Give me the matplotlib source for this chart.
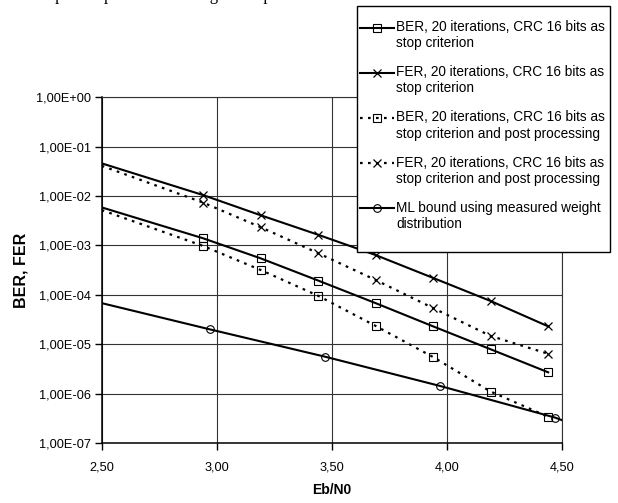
import numpy as np
import matplotlib
matplotlib.use("Agg")
import matplotlib.pyplot as plt
from matplotlib.ticker import FuncFormatter, FixedLocator
from matplotlib.legend_handler import HandlerLine2D
from matplotlib.patches import Rectangle

# Eb/N0 points of the simulated curves
ebn0 = [2.94, 3.19, 3.44, 3.69, 3.94, 4.19, 4.44]
berCrc = [1.4e-3, 5.5e-4, 1.95e-4, 6.8e-5, 2.3e-5, 7.9e-6, 2.7e-6]
ferCrc = [1.05e-2, 4.1e-3, 1.65e-3, 6.4e-4, 2.2e-4, 7.5e-5, 2.3e-5]
berPost = [9.8e-4, 3.2e-4, 9.6e-5, 2.35e-5, 5.5e-6, 1.1e-6, 3.4e-7]
ferPost = [7.4e-3, 2.35e-3, 7.0e-4, 2.0e-4, 5.4e-5, 1.47e-5, 6.4e-6]
# ML bound
ebn0Ml = [2.97, 3.47, 3.97, 4.47]
mlBound = [2.0e-5, 5.6e-6, 1.43e-6, 3.27e-7]
# where the lines cut the plot edges (no marker there)
xLeft = 2.5
leftVals = {'berCrc': 5.9e-3, 'ferCrc': 4.6e-2, 'berPost': 5.2e-3, 'ferPost': 4.1e-2, 'ml': 6.8e-5}
xRight = 4.5
mlRight = 2.9e-7

labels = ["BER, 20 iterations, CRC 16 bits as\nstop criterion",
          "FER, 20 iterations, CRC 16 bits as\nstop criterion",
          "BER, 20 iterations, CRC 16 bits as\nstop criterion and post processing",
          "FER, 20 iterations, CRC 16 bits as\nstop criterion and post processing",
          "ML bound using measured weight\ndistribution"]

plt.rcParams['font.family'] = ['Liberation Sans', 'DejaVu Sans']

fig = plt.figure(figsize=(6.18, 5.03), dpi=100)
W, H = 618, 503
ax = fig.add_axes([101.7 / W, 1 - 443 / H, (562 - 101.7) / W, (443 - 97.3) / H])

dotted = (0, (1.2, 2.4))
n = len(ebn0)
l1, = ax.plot([xLeft] + ebn0, [leftVals['berCrc']] + berCrc, color='black', lw=1.5,
              marker='s', ms=5.8, mfc='none', mec='black', mew=0.8, markevery=range(1, n + 1))
l2, = ax.plot([xLeft] + ebn0, [leftVals['ferCrc']] + ferCrc, color='black', lw=1.5,
              marker='x', ms=6, mec='black', mew=0.9, markevery=range(1, n + 1))
l3, = ax.plot([xLeft] + ebn0, [leftVals['berPost']] + berPost, color='black', lw=1.6, ls=dotted,
              marker='s', ms=5.8, mfc='none', mec='black', mew=0.8, markevery=range(1, n + 1))
l4, = ax.plot([xLeft] + ebn0, [leftVals['ferPost']] + ferPost, color='black', lw=1.6, ls=dotted,
              marker='x', ms=6, mec='black', mew=0.9, markevery=range(1, n + 1))
l5, = ax.plot([xLeft] + ebn0Ml + [xRight], [leftVals['ml']] + mlBound + [mlRight], color='black', lw=1.5,
              marker='o', ms=5.5, mfc='none', mec='black', mew=0.8, markevery=range(1, len(ebn0Ml) + 1))

ax.set_yscale('log')
ax.set_xlim(2.5, 4.5)
ax.set_ylim(1e-7, 1)
ax.xaxis.set_major_locator(FixedLocator([2.5, 3.0, 3.5, 4.0, 4.5]))
ax.yaxis.set_major_locator(FixedLocator([10.0 ** k for k in range(-7, 1)]))
ax.yaxis.set_minor_locator(FixedLocator([]))


def yfmt(v, pos):
    e = int(round(np.log10(v)))
    m = v / 10.0 ** e
    return f"{m:.2f}".replace('.', ',') + f"E{e:+03d}"


ax.xaxis.set_major_formatter(FuncFormatter(lambda v, p: f"{v:.2f}".replace('.', ',')))
ax.yaxis.set_major_formatter(FuncFormatter(yfmt))
ax.tick_params(axis='both', direction='out', length=5, width=1, labelsize=9.2, color='black')
ax.tick_params(axis='x', pad=8)
ax.tick_params(axis='y', pad=3)

ax.grid(True, which='major', color='#333333', lw=0.8)
for side in ['top', 'right']:
    ax.spines[side].set_color('#333333')
    ax.spines[side].set_linewidth(0.8)
for side in ['left', 'bottom']:
    ax.spines[side].set_linewidth(1.1)

ax.set_xlabel("Eb/N0", fontsize=10, fontweight='bold', labelpad=7)
ax.set_ylabel("BER, FER", fontsize=11.5, fontweight='bold', labelpad=5)


class FirstLineHandler(HandlerLine2D):
    # put the handle beside the first line of a two-line label
    def create_artists(self, legend, orig_handle, xdescent, ydescent, width, height, fontsize, trans):
        return super().create_artists(legend, orig_handle, xdescent, ydescent - 1.2 * fontsize,
                                      width, height, fontsize, trans)


# legend frame drawn by hand: Excel pads more above/below than at the sides
fig.patches.append(Rectangle((357 / W, 1 - 252 / H), (610 - 357) / W, (252 - 6) / H,
                             transform=fig.transFigure, facecolor='white', edgecolor='black',
                             lw=1.0, zorder=4))
leg = fig.legend([l1, l2, l3, l4, l5], labels, loc='upper left',
                 bbox_to_anchor=(360 / W, 1 - 20 / H), bbox_transform=fig.transFigure,
                 fontsize=9.8, frameon=False, borderaxespad=0, borderpad=0,
                 handlelength=2.5, handletextpad=0.15, labelspacing=1.1,
                 handler_map={l: FirstLineHandler(numpoints=1) for l in [l1, l2, l3, l4, l5]})
leg.set_zorder(5)

# bottom of the line of body text above the chart, cut off by the crop
fig.text(19 / W, 1.0, "example the post and the long term spread", family='Liberation Serif',
         fontsize=12, va='baseline', ha='left')

fig.savefig("out.png", dpi=100)
